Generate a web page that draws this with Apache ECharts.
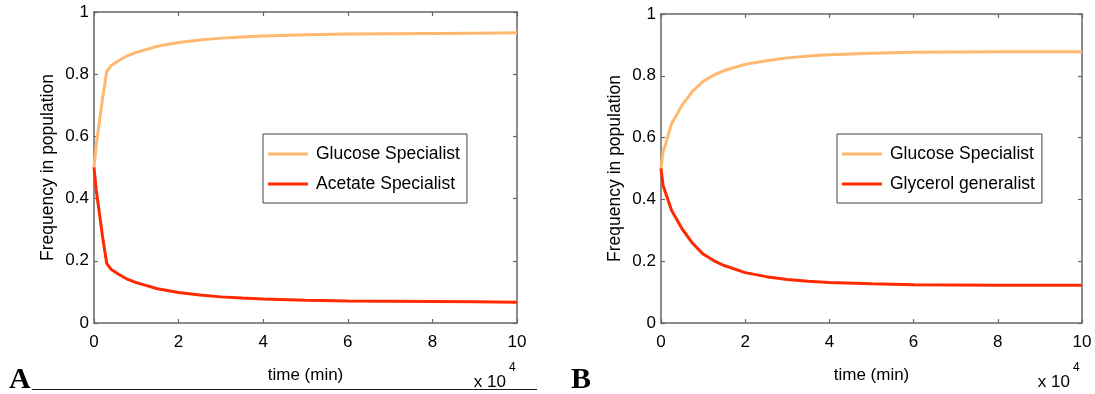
<!DOCTYPE html>
<html><head><meta charset="utf-8">
<script src="https://cdn.jsdelivr.net/npm/echarts@6/dist/echarts.min.js"></script>
<style>html,body{margin:0;padding:0;background:#fff}#c{width:1095px;height:394px}</style>
</head><body><div id="c"></div>
<script>
// time in units of 10^4 min
const timeA = [0, 0.05, 0.1, 0.2, 0.3, 0.4, 0.6, 0.8, 1.0, 1.5, 2, 2.5, 3, 3.5, 4, 5, 6, 7, 8, 9, 10];
const glucoseA = [0.5, 0.57, 0.62, 0.72, 0.808, 0.827, 0.845, 0.86, 0.87, 0.89, 0.902, 0.91, 0.916, 0.92, 0.923, 0.927, 0.929, 0.93, 0.931, 0.932, 0.933];
const acetateA = [0.5, 0.43, 0.38, 0.28, 0.192, 0.173, 0.155, 0.14, 0.13, 0.11, 0.098, 0.09, 0.084, 0.08, 0.077, 0.073, 0.071, 0.07, 0.069, 0.068, 0.067];
const timeB = [0, 0.05, 0.1, 0.25, 0.5, 0.75, 1.0, 1.25, 1.5, 2, 2.5, 3, 3.5, 4, 5, 6, 7, 8, 9, 10];
const glucoseB = [0.5, 0.555, 0.575, 0.645, 0.705, 0.75, 0.782, 0.802, 0.817, 0.837, 0.849, 0.858, 0.864, 0.868, 0.873, 0.876, 0.877, 0.878, 0.878, 0.878];
const glycerolB = [0.5, 0.445, 0.425, 0.365, 0.305, 0.258, 0.223, 0.202, 0.186, 0.163, 0.15, 0.141, 0.135, 0.131, 0.127, 0.124, 0.123, 0.122, 0.122, 0.122];
const xMin = 0, xMax = 10, xStep = 2;
const yMin = 0, yMax = 1, yStep = 0.2;
const seriesNames = ['Glucose Specialist', 'Acetate Specialist', 'Glycerol generalist'];

const FONT = 'Liberation Sans, Arial, sans-serif';
const ORANGE = '#FFB870';
const RED = '#FF2A00';
const FRAME = '#666666';

function pairs(t, v) { return t.map((x, i) => [x, v[i]]); }

function xAx(gi, pos, main) {
  return {
    type: 'value', gridIndex: gi, position: pos, min: xMin, max: xMax, interval: xStep,
    axisLine: { show: true, onZero: false, lineStyle: { color: FRAME, width: 1.5 } },
    axisTick: { show: true, inside: true, length: 4, lineStyle: { color: FRAME, width: 1.2 } },
    axisLabel: { show: main, color: '#000', fontSize: 17, fontFamily: FONT, margin: 11 },
    splitLine: { show: false },
    name: main ? 'time (min)' : '', nameLocation: 'middle', nameGap: 44,
    nameTextStyle: { color: '#000', fontSize: 17, fontFamily: FONT }
  };
}
function yAx(gi, pos, main) {
  return {
    type: 'value', gridIndex: gi, position: pos, min: yMin, max: yMax, interval: yStep,
    axisLine: { show: true, onZero: false, lineStyle: { color: FRAME, width: 1.5 } },
    axisTick: { show: true, inside: true, length: 4, lineStyle: { color: FRAME, width: 1.2 } },
    axisLabel: { show: main, color: '#000', fontSize: 17, fontFamily: FONT, margin: 5 },
    splitLine: { show: false },
    name: main ? 'Frequency in population' : '', nameLocation: 'middle', nameGap: 37,
    nameTextStyle: { color: '#000', fontSize: 17.5, fontFamily: FONT }
  };
}
function line(name, data, color, xi, yi) {
  return { type: 'line', name, data, xAxisIndex: xi, yAxisIndex: yi, showSymbol: false, symbol: 'none',
    lineStyle: { color, width: 3 }, itemStyle: { color }, animation: false };
}
function legend(left, top, names) {
  return {
    left, top, orient: 'vertical', data: names, icon: 'rect', itemWidth: 40, itemHeight: 3,
    itemGap: 12, padding: [11, 7, 10, 5], borderColor: '#444', borderWidth: 1, backgroundColor: '#fff',
    selectedMode: false,
    textStyle: { color: '#000', fontSize: 17.5, fontFamily: FONT, padding: [0, 0, 0, 3] }
  };
}

const chart = echarts.init(document.getElementById('c'), null, { renderer: 'canvas' });
chart.setOption({
  backgroundColor: '#fff',
  animation: false,
  grid: [
    { left: 94, top: 12, width: 423, height: 311 },
    { left: 661, top: 14, width: 421, height: 309 }
  ],
  xAxis: [xAx(0, 'bottom', true), xAx(0, 'top', false), xAx(1, 'bottom', true), xAx(1, 'top', false)],
  yAxis: [yAx(0, 'left', true), yAx(0, 'right', false), yAx(1, 'left', true), yAx(1, 'right', false)],
  legend: [
    legend(263, 134, [seriesNames[0], seriesNames[1]]),
    legend(837, 134, [seriesNames[0], seriesNames[2]])
  ],
  series: [
    line(seriesNames[0], pairs(timeA, glucoseA), ORANGE, 0, 0),
    line(seriesNames[1], pairs(timeA, acetateA), RED, 0, 0),
    line(seriesNames[0], pairs(timeB, glucoseB), ORANGE, 2, 2),
    line(seriesNames[2], pairs(timeB, glycerolB), RED, 2, 2)
  ],
  graphic: [
    { type: 'text', left: 9, top: 365, style: { text: 'A', font: 'bold 30px Liberation Serif, Times New Roman, serif', fill: '#000' } },
    { type: 'line', shape: { x1: 32, y1: 389.5, x2: 537, y2: 389.5 }, style: { stroke: '#141a26', lineWidth: 1 } },
    { type: 'text', left: 571, top: 365, style: { text: 'B', font: 'bold 30px Liberation Serif, Times New Roman, serif', fill: '#000' } },
    { type: 'text', x: 506, y: 382, style: { text: 'x 10', font: '17px ' + FONT, fill: '#000', align: 'right', verticalAlign: 'middle' } },
    { type: 'text', x: 509, y: 368, style: { text: '4', font: '12px ' + FONT, fill: '#000', align: 'left', verticalAlign: 'middle' } },
    { type: 'text', x: 1070, y: 382, style: { text: 'x 10', font: '17px ' + FONT, fill: '#000', align: 'right', verticalAlign: 'middle' } },
    { type: 'text', x: 1073, y: 368, style: { text: '4', font: '12px ' + FONT, fill: '#000', align: 'left', verticalAlign: 'middle' } }
  ]
});
</script>
</body></html>
